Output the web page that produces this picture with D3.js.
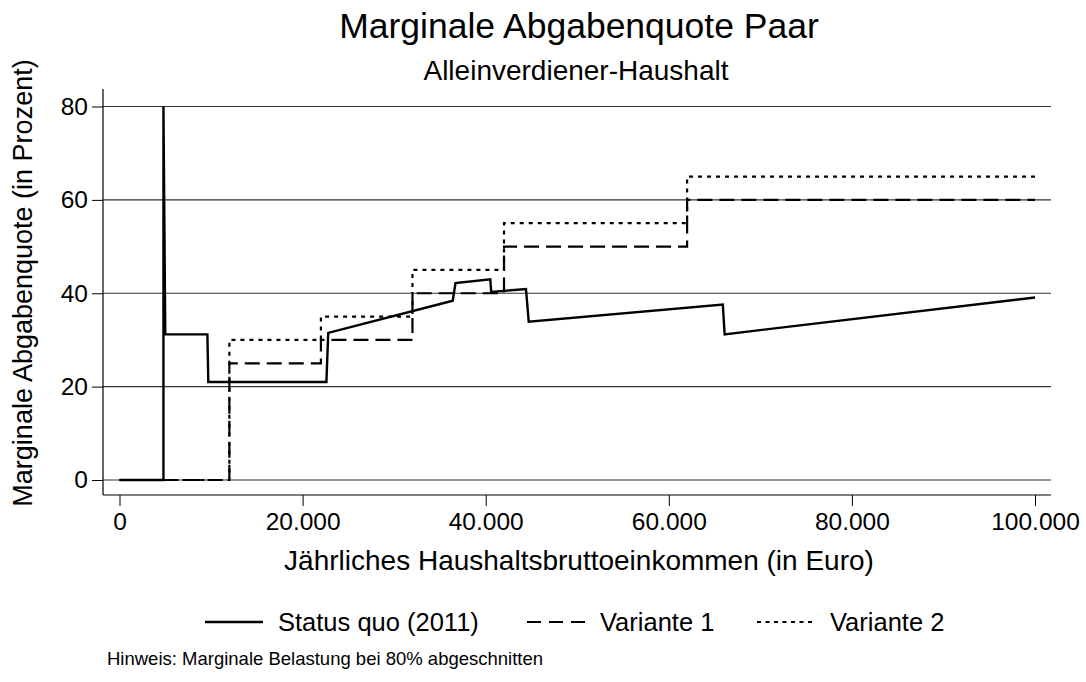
<!DOCTYPE html>
<html>
<head>
<meta charset="utf-8">
<script src="https://cdn.jsdelivr.net/npm/d3@7"></script>
<style>
  html, body { margin: 0; padding: 0; background: #fff; }
  svg { display: block; font-family: "Liberation Sans", Arial, sans-serif; }
</style>
</head>
<body>
<div id="chart"></div>
<script>
// --- data ----------------------------------------------------------------
const xTicks = [0, 20000, 40000, 60000, 80000, 100000];
const yTicks = [0, 20, 40, 60, 80];

// Status quo (2011): breakpoints, repeated x = vertical jump
const statusX = [0, 4800, 4800, 5000, 9600, 9700, 22600, 22800, 36400, 36700, 40500, 40600, 44400, 44700, 65900, 66100, 100000];
const statusY = [0, 0, 80, 31.2, 31.2, 21, 21, 31.5, 38.4, 42.2, 43.0, 40.3, 40.9, 33.9, 37.6, 31.2, 39.1];

// Varianten: step functions, rate holds from each break to the next
const stepBreaks = [0, 12000, 22000, 32000, 42000, 62000, 100000];
const variante1 = [0, 25, 30, 40, 50, 60, 60];
const variante2 = [0, 30, 35, 45, 55, 65, 65];

const seriesNames = ["Status quo (2011)", "Variante 1", "Variante 2"];

// --- layout --------------------------------------------------------------
const W = 1086, H = 682;
const plot = { left: 103, right: 1051, top: 89, bottom: 495 };

const svg = d3.select("#chart").append("svg")
    .attr("width", W).attr("height", H)
    .attr("viewBox", `0 0 ${W} ${H}`);

const x = d3.scaleLinear().domain([0, 100000]).range([119.5, 1035]);
const y = d3.scaleLinear().domain([0, 80]).range([480, 106.5]);

const de = d3.formatLocale({ decimal: ",", thousands: ".", grouping: [3], currency: ["", " €"] });
const fmt = de.format(",");

// gridlines
svg.append("g")
    .selectAll("line").data(yTicks).join("line")
    .attr("x1", plot.left).attr("x2", plot.right)
    .attr("y1", d => y(d)).attr("y2", d => y(d))
    .attr("stroke", "#333").attr("stroke-width", 1.1);

// axes
const yAxis = svg.append("g")
    .attr("transform", `translate(${plot.left},0)`)
    .call(d3.axisLeft(y).tickValues(yTicks).tickSize(11).tickPadding(4));
yAxis.select(".domain").remove();
yAxis.selectAll("text").style("font-size", "24.5px").attr("fill", "#000");
yAxis.selectAll("line").attr("stroke", "#000");

const xAxis = svg.append("g")
    .attr("transform", `translate(0,${plot.bottom})`)
    .call(d3.axisBottom(x).tickValues(xTicks).tickFormat(fmt).tickSize(11).tickPadding(7));
xAxis.select(".domain").remove();
xAxis.selectAll("text").style("font-size", "24.5px").attr("fill", "#000");
xAxis.selectAll("line").attr("stroke", "#000");

svg.append("line")
    .attr("x1", plot.left).attr("x2", plot.left)
    .attr("y1", plot.top).attr("y2", plot.bottom)
    .attr("stroke", "#000").attr("stroke-width", 1.2);
svg.append("line")
    .attr("x1", plot.left).attr("x2", plot.right)
    .attr("y1", plot.bottom).attr("y2", plot.bottom)
    .attr("stroke", "#000").attr("stroke-width", 1.2);

// series
const styles = [
    { dash: null, width: 2.4 },
    { dash: "15,7", width: 2.2 },
    { dash: "4,5", width: 2.2 }
];

const line = d3.line().x(d => x(d[0])).y(d => y(d[1]));
const stepLine = d3.line().x(d => x(d[0])).y(d => y(d[1])).curve(d3.curveStepAfter);

const statusPts = statusX.map((v, i) => [v, statusY[i]]);
const v1Pts = stepBreaks.map((v, i) => [v, variante1[i]]);
const v2Pts = stepBreaks.map((v, i) => [v, variante2[i]]);

svg.append("path").attr("d", line(statusPts))
    .attr("fill", "none").attr("stroke", "#000")
    .attr("stroke-width", styles[0].width).attr("stroke-linejoin", "miter");
svg.append("path").attr("d", stepLine(v1Pts))
    .attr("fill", "none").attr("stroke", "#000")
    .attr("stroke-width", styles[1].width).attr("stroke-dasharray", styles[1].dash);
svg.append("path").attr("d", stepLine(v2Pts))
    .attr("fill", "none").attr("stroke", "#000")
    .attr("stroke-width", styles[2].width).attr("stroke-dasharray", styles[2].dash);

// titles
svg.append("text").attr("x", 579).attr("y", 38).attr("text-anchor", "middle")
    .style("font-size", "35.5px").text("Marginale Abgabenquote Paar");
svg.append("text").attr("x", 576).attr("y", 80).attr("text-anchor", "middle")
    .style("font-size", "28px").text("Alleinverdiener-Haushalt");
svg.append("text").attr("x", 579).attr("y", 570).attr("text-anchor", "middle")
    .style("font-size", "28px").text("Jährliches Haushaltsbruttoeinkommen (in Euro)");
svg.append("text")
    .attr("transform", "translate(32,283) rotate(-90)")
    .attr("text-anchor", "middle")
    .style("font-size", "27px").text("Marginale Abgabenquote (in Prozent)");

// legend
const legendItems = [
    { x: 205, label: seriesNames[0], style: styles[0] },
    { x: 527, label: seriesNames[1], style: { dash: "14,8", width: 2.2 } },
    { x: 757, label: seriesNames[2], style: { dash: "4,4.5", width: 2.2 } }
];
const lg = svg.append("g").selectAll("g").data(legendItems).join("g")
    .attr("transform", d => `translate(${d.x},622)`);
lg.append("line").attr("x1", 0).attr("x2", 58)
    .attr("stroke", "#000").attr("stroke-width", d => d.style.width)
    .attr("stroke-dasharray", d => d.style.dash);
lg.append("text").attr("x", 73).attr("dy", "0.35em")
    .style("font-size", "25.5px").text(d => d.label);

// note
svg.append("text").attr("x", 107).attr("y", 665)
    .style("font-size", "18.5px").text("Hinweis: Marginale Belastung bei 80% abgeschnitten");
</script>
</body>
</html>
